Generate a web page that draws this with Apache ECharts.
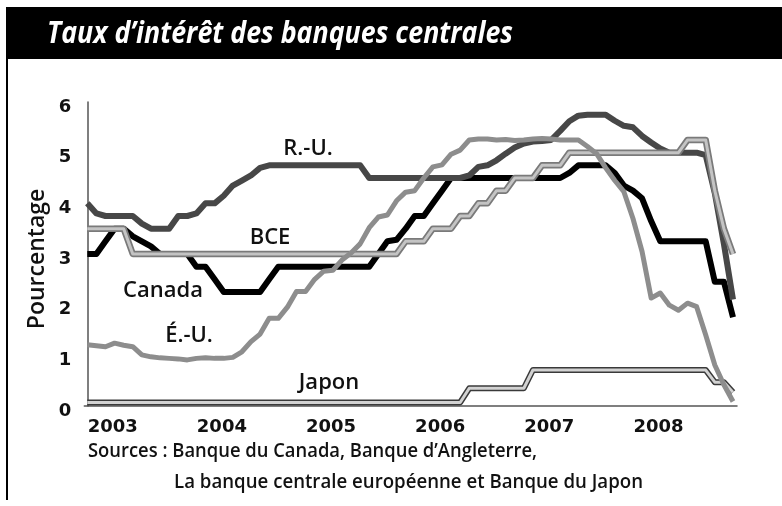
<!DOCTYPE html>
<html><head><meta charset="utf-8">
<script src="https://cdn.jsdelivr.net/npm/echarts@6/dist/echarts.min.js"></script>
<style>html,body{margin:0;padding:0;background:#fff}#c{width:782px;height:506px}</style>
</head><body><div id="c"></div>
<script>
// Monthly values, index 0 = Jan 2003 ... 71 = Dec 2008
const yearLabels = ['2003','2004','2005','2006','2007','2008'];
const yTickLabels = ['0','1','2','3','4','5','6'];

const ukRate = [4.0,3.8,3.75,3.75,3.75,3.75,3.6,3.5,3.5,3.5,3.75,3.75,
  3.8,4.0,4.0,4.15,4.35,4.45,4.55,4.7,4.75,4.75,4.75,4.75,
  4.75,4.75,4.75,4.75,4.75,4.75,4.75,4.5,4.5,4.5,4.5,4.5,
  4.5,4.5,4.5,4.5,4.5,4.5,4.55,4.72,4.75,4.85,4.98,5.1,
  5.18,5.22,5.23,5.25,5.43,5.62,5.73,5.75,5.75,5.75,5.63,5.53,
  5.5,5.33,5.2,5.08,5.0,5.0,5.0,5.0,4.95,4.2,3.2,2.1];

const canadaRate = [3.0,3.0,3.25,3.5,3.5,3.35,3.25,3.15,3.0,3.0,3.0,3.0,
  2.75,2.75,2.5,2.25,2.25,2.25,2.25,2.25,2.5,2.75,2.75,2.75,
  2.75,2.75,2.75,2.75,2.75,2.75,2.75,2.75,3.0,3.25,3.28,3.5,
  3.75,3.75,4.0,4.25,4.5,4.5,4.5,4.5,4.5,4.5,4.5,4.5,
  4.5,4.5,4.5,4.5,4.5,4.6,4.75,4.75,4.75,4.75,4.6,4.35,
  4.25,4.1,3.65,3.25,3.25,3.25,3.25,3.25,3.25,2.45,2.45,1.75];

const ecbRate = [3.5,3.5,3.5,3.5,3.5,3.0,3.0,3.0,3.0,3.0,3.0,3.0,
  3.0,3.0,3.0,3.0,3.0,3.0,3.0,3.0,3.0,3.0,3.0,3.0,
  3.0,3.0,3.0,3.0,3.0,3.0,3.0,3.0,3.0,3.0,3.0,3.25,
  3.25,3.25,3.5,3.5,3.5,3.75,3.75,4.0,4.0,4.25,4.25,4.5,
  4.5,4.5,4.75,4.75,4.75,5.0,5.0,5.0,5.0,5.0,5.0,5.0,
  5.0,5.0,5.0,5.0,5.0,5.0,5.25,5.25,5.25,4.25,3.5,3.0];

const usRate = [1.21,1.19,1.17,1.24,1.2,1.17,1.01,0.97,0.95,0.94,0.93,0.91,
  0.94,0.95,0.94,0.94,0.96,1.07,1.27,1.42,1.73,1.73,1.95,2.26,
  2.26,2.5,2.66,2.68,2.88,3.02,3.2,3.52,3.73,3.77,4.05,4.22,
  4.25,4.5,4.72,4.76,4.97,5.05,5.25,5.27,5.27,5.25,5.26,5.24,
  5.25,5.27,5.28,5.27,5.25,5.25,5.25,5.12,4.98,4.7,4.45,4.23,
  3.7,3.05,2.13,2.23,1.99,1.89,2.03,1.96,1.4,0.81,0.42,0.09];

const japanRate = [0.07,0.07,0.07,0.07,0.07,0.07,0.07,0.07,0.07,0.07,0.07,0.07,
  0.07,0.07,0.07,0.07,0.07,0.07,0.07,0.07,0.07,0.07,0.07,0.07,
  0.07,0.07,0.07,0.07,0.07,0.07,0.07,0.07,0.07,0.07,0.07,0.07,
  0.07,0.07,0.07,0.07,0.07,0.07,0.35,0.35,0.35,0.35,0.35,0.35,
  0.35,0.71,0.71,0.71,0.71,0.71,0.71,0.71,0.71,0.71,0.71,0.71,
  0.71,0.71,0.71,0.71,0.71,0.71,0.71,0.71,0.71,0.47,0.47,0.27];

const seriesNames = ['R.-U.','BCE','Canada','É.-U.','Japon'];
const titleText = 'Taux d\u2019intérêt des banques centrales';
const yAxisTitle = 'Pourcentage';
const sourceLines = ['Sources : Banque du Canada, Banque d\u2019Angleterre,',
  'La banque centrale européenne et Banque du Japon'];

const pairs = arr => arr.map((v, i) => [i, v]);
const labelFirstMonth = 2.8;

const tickFont = '"DejaVu Sans", sans-serif';
const textFont = '"Open Sans", "Noto Sans", sans-serif';

const measureCtx = document.createElement('canvas').getContext('2d');
function fitScale(text, font, targetWidth) {
  measureCtx.font = font;
  const w = measureCtx.measureText(text).width;
  return w > 0 ? targetWidth / w : 1;
}

function lineSeries(name, data, color, width, z) {
  return {
    name, type: 'line', data: pairs(data), showSymbol: false, symbol: 'none',
    z, lineStyle: { color, width, join: 'round', cap: 'butt' },
    emphasis: { disabled: true }, silent: true
  };
}

const titleFont = 'italic bold 31px ' + textFont;
const srcFont = '600 19px ' + textFont;
const lblFont = '600 22px ' + textFont;
const axisTitleFont = '600 23px ' + textFont;

function fittedText(text, font, x, y, width, color) {
  return { type: 'text', x, y, z: 11, scaleX: fitScale(text, font, width), originX: 0, originY: 0,
    style: { text, fill: color, font, align: 'left', verticalAlign: 'middle' } };
}
function label(text, x, y) {
  return { type: 'text', x, y, z: 11, style: { text, fill: '#111', font: lblFont, align: 'center', verticalAlign: 'middle' } };
}

const chart = echarts.init(document.getElementById('c'), null, { renderer: 'canvas' });
chart.setOption({
  animation: false,
  backgroundColor: '#ffffff',
  grid: { left: 84.3, right: 45, top: 102, bottom: 100 },
  xAxis: {
    type: 'value', min: -0.33, max: 71.44,
    axisLine: { show: true, onZero: false, lineStyle: { color: '#555', width: 1.5 } },
    axisTick: { show: false }, splitLine: { show: false },
    axisLabel: {
      customValues: yearLabels.map((y, k) => 12 * k + labelFirstMonth),
      formatter: v => yearLabels[Math.round((v - labelFirstMonth) / 12)],
      fontFamily: tickFont, fontSize: 18, fontWeight: 'bold', color: '#111', margin: 12
    }
  },
  yAxis: {
    type: 'value', min: 0, max: 6, interval: 1,
    axisLine: { show: true, lineStyle: { color: '#555', width: 1.5 } },
    axisTick: { show: false }, splitLine: { show: false },
    axisLabel: {
      formatter: v => yTickLabels[v],
      fontFamily: tickFont, fontSize: 18, fontWeight: 'bold', color: '#111',
      margin: 13, verticalAlign: 'top', lineHeight: 10
    }
  },
  series: [
    lineSeries('Japon', japanRate, '#3a3a3a', 6, 2),
    lineSeries('Japon', japanRate, '#d2d2d2', 3, 3),
    lineSeries('Canada', canadaRate, '#000000', 6, 4),
    lineSeries('R.-U.', ukRate, '#474747', 6, 5),
    lineSeries('BCE', ecbRate, '#7a7a7a', 6.5, 6),
    lineSeries('BCE', ecbRate, '#c4c4c4', 3, 7),
    lineSeries('É.-U.', usRate, '#8d8d8d', 5, 8)
  ],
  graphic: [
    { type: 'rect', shape: { x: 6, y: 7, width: 776, height: 52 }, style: { fill: '#000' }, z: 10 },
    { type: 'line', shape: { x1: 7, y1: 58, x2: 7, y2: 500 }, style: { stroke: '#000', lineWidth: 2 }, z: 10 },
    fittedText(titleText, titleFont, 47, 34, 466, '#fff'),
    { type: 'text', x: 37, y: 259, rotation: Math.PI / 2, z: 11,
      style: { text: yAxisTitle, fill: '#111', font: axisTitleFont, align: 'center', verticalAlign: 'middle' } },
    label(seriesNames[0], 308, 149),
    label(seriesNames[1], 270, 238),
    label(seriesNames[2], 163, 291),
    label(seriesNames[3], 189, 336),
    label(seriesNames[4], 329, 383),
    fittedText(sourceLines[0], srcFont, 88, 452, 449, '#111'),
    fittedText(sourceLines[1], srcFont, 174, 483, 469, '#111')
  ]
});
</script>
</body></html>
